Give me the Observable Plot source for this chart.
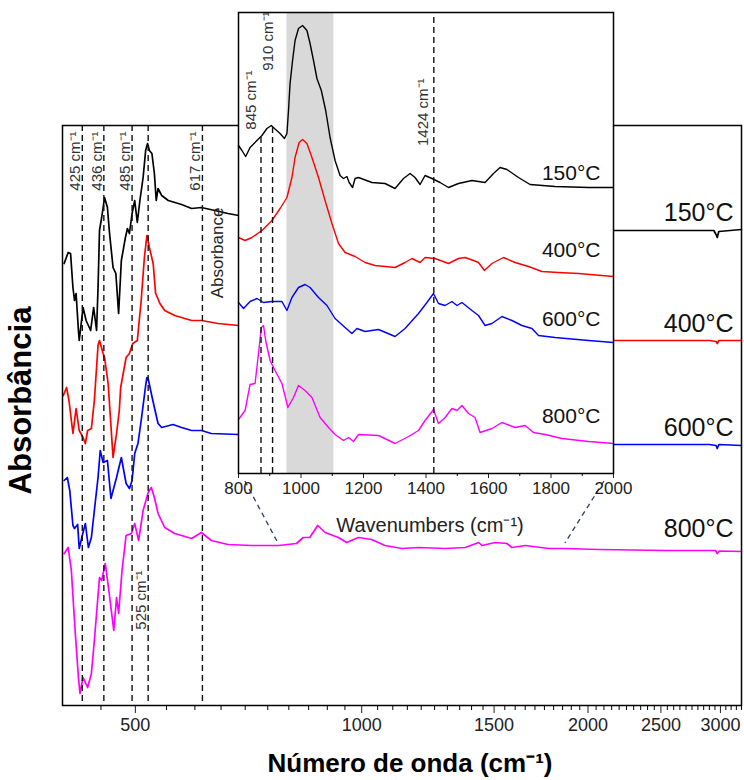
<!DOCTYPE html>
<html><head><meta charset="utf-8">
<script src="https://cdn.jsdelivr.net/npm/d3@7"></script>
<script src="https://cdn.jsdelivr.net/npm/@observablehq/plot@0.6"></script>
<style>
html,body{margin:0;padding:0;background:#fff;}
#wrap{position:relative;width:744px;height:780px;}
#wrap svg{position:absolute;left:0;top:0;}
</style></head><body><div id="wrap"></div>
<script>
// ---------- DATA (wavenumber cm-1, absorbance a.u. incl. offset) ----------
const seriesNames = ["150°C", "400°C", "600°C", "800°C"];
const seriesColors = ["#000000", "#ff0000", "#0000ff", "#ff00ff"];

// Main spectra (log wavenumber axis 400–3200)
const main150 = [[402,4.42],[407,4.53],[410,4.52],[413,4.18],[415,4.05],[417,4.12],[420,3.75],[421,3.65],[426,3.98],[430,3.85],[436,3.75],[440,3.98],[444,3.75],[446,4.18],[448,4.75],[451,4.88],[455,5.08],[459,4.98],[462,4.72],[467,4.38],[471,4.32],[475,3.92],[479,4.45],[485,4.68],[488,4.77],[491,4.72],[495,4.92],[499,5.05],[503,4.83],[507,5.05],[512,5.28],[516,5.55],[519,5.62],[522,5.55],[526,5.52],[530,5.32],[533,5.05],[536,5.17],[542,5.10],[553,5.05],[576,5.01],[594,4.97],[612,4.98],[638,4.95],[664,4.92],[686,4.90],[2173,4.75],[2500,4.75],[2940,4.75],[2960,4.71],[2971,4.68],[2985,4.74],[3200,4.76]];
const main400 = [[401,3.10],[405,3.18],[408,3.05],[413,2.72],[417,2.97],[421,2.75],[426,2.68],[429,2.62],[432,2.75],[437,2.77],[441,3.05],[446,3.60],[448,3.65],[453,3.52],[455,3.48],[460,3.22],[467,2.48],[472,2.72],[476,2.95],[478,3.18],[486,3.48],[491,3.52],[496,3.62],[503,3.65],[509,4.05],[514,4.48],[518,4.70],[522,4.58],[528,4.42],[532,4.12],[535,4.08],[539,4.02],[547,3.95],[564,3.90],[594,3.85],[612,3.85],[644,3.82],[686,3.80],[2173,3.65],[2900,3.65],[2960,3.64],[2971,3.62],[2985,3.65],[3200,3.65]];
const main600 = [[402,2.25],[406,2.28],[409,2.15],[413,1.80],[415,1.77],[419,1.81],[421,1.57],[426,1.73],[429,1.82],[433,1.58],[437,1.68],[441,1.95],[446,2.28],[449,2.55],[453,2.43],[459,2.45],[464,2.07],[472,2.28],[479,2.48],[486,2.22],[491,2.17],[495,2.25],[499,2.52],[504,2.62],[509,2.85],[512,3.00],[516,3.20],[518,3.28],[520,3.27],[525,3.12],[530,2.98],[536,2.82],[542,2.78],[561,2.81],[576,2.78],[594,2.75],[612,2.75],[631,2.72],[686,2.71],[2173,2.61],[2900,2.61],[2960,2.60],[2971,2.57],[2985,2.61],[3200,2.60]];
const main800 = [[402,1.52],[407,1.58],[411,1.35],[416,0.72],[420,0.28],[422,0.12],[426,0.28],[432,0.18],[437,0.32],[441,0.65],[448,1.28],[451,1.25],[456,1.42],[461,1.15],[468,0.75],[472,1.08],[475,0.92],[480,1.35],[486,1.70],[494,1.72],[499,1.82],[505,1.65],[512,1.95],[520,2.13],[525,2.18],[530,2.08],[536,1.92],[547,1.78],[564,1.72],[594,1.67],[612,1.73],[631,1.65],[664,1.61],[714,1.60],[775,1.60],[819,1.62],[836,1.68],[853,1.68],[874,1.80],[894,1.73],[931,1.68],[955,1.63],[990,1.68],[1031,1.66],[1074,1.60],[1131,1.57],[1190,1.58],[1291,1.57],[1373,1.58],[1431,1.63],[1445,1.60],[1505,1.63],[1560,1.62],[1584,1.58],[1650,1.60],[1773,1.57],[1866,1.57],[2067,1.56],[2536,1.55],[2956,1.55],[2971,1.52],[2990,1.545],[3200,1.54]];

// Inset spectra (linear axis 800–2000)
const inset150 = [[800,3.28],[811,3.23],[823,3.17],[837,3.26],[859,3.33],[875,3.38],[891,3.45],[905,3.48],[915,3.45],[933,3.40],[947,3.35],[955,3.40],[960,3.63],[965,3.90],[973,4.13],[981,4.33],[992,4.45],[1005,4.48],[1019,4.43],[1029,4.30],[1040,4.13],[1051,3.95],[1065,3.83],[1079,3.63],[1093,3.36],[1109,3.13],[1125,2.98],[1136,2.95],[1147,2.97],[1154,2.91],[1165,2.86],[1173,2.95],[1184,2.96],[1227,2.91],[1269,2.90],[1301,2.85],[1328,2.95],[1349,3.00],[1365,2.96],[1381,2.89],[1397,2.98],[1419,2.95],[1445,2.91],[1472,2.86],[1504,2.90],[1547,2.93],[1589,2.91],[1616,3.00],[1637,3.06],[1659,3.04],[1696,2.96],[1733,2.89],[1813,2.87],[1920,2.86],[2000,2.86]];
const inset400 = [[800,2.36],[821,2.33],[843,2.36],[875,2.43],[907,2.53],[933,2.65],[955,2.76],[971,2.96],[981,3.16],[994,3.31],[1005,3.34],[1019,3.30],[1035,3.16],[1056,2.96],[1077,2.73],[1099,2.50],[1120,2.30],[1141,2.21],[1173,2.17],[1205,2.11],[1237,2.08],[1301,2.06],[1333,2.11],[1355,2.15],[1381,2.11],[1397,2.16],[1429,2.15],[1472,2.10],[1504,2.15],[1525,2.16],[1552,2.13],[1568,2.11],[1587,2.03],[1611,2.10],[1648,2.16],[1685,2.11],[1728,2.07],[1771,2.02],[1824,2.01],[1888,2.00],[2000,1.97]];
const inset600 = [[800,1.71],[816,1.65],[837,1.72],[859,1.75],[880,1.71],[907,1.72],[939,1.72],[955,1.63],[971,1.76],[992,1.86],[1013,1.89],[1029,1.86],[1056,1.76],[1083,1.68],[1109,1.55],[1141,1.46],[1163,1.40],[1179,1.45],[1205,1.42],[1248,1.44],[1301,1.37],[1333,1.45],[1376,1.60],[1403,1.71],[1424,1.80],[1440,1.70],[1461,1.68],[1483,1.72],[1499,1.68],[1515,1.71],[1547,1.63],[1568,1.58],[1589,1.48],[1611,1.50],[1643,1.57],[1675,1.53],[1707,1.48],[1739,1.45],[1760,1.38],[1813,1.36],[1920,1.33],[2000,1.31]];
const inset800 = [[800,0.54],[821,0.63],[837,0.89],[853,0.90],[864,1.20],[873,1.46],[880,1.48],[887,1.33],[901,1.13],[917,1.03],[939,0.90],[958,0.66],[976,0.76],[992,0.88],[1013,0.83],[1035,0.76],[1061,0.56],[1088,0.46],[1109,0.39],[1136,0.33],[1152,0.36],[1168,0.32],[1184,0.39],[1248,0.38],[1301,0.30],[1344,0.37],[1376,0.43],[1397,0.53],[1417,0.61],[1424,0.64],[1440,0.50],[1461,0.56],[1483,0.65],[1499,0.63],[1515,0.68],[1536,0.60],[1557,0.56],[1573,0.41],[1611,0.45],[1643,0.51],[1685,0.46],[1717,0.48],[1744,0.41],[1781,0.39],[1835,0.35],[1920,0.32],[2000,0.30]];

// Series label heights
const mainLabelY = [4.93, 3.82, 2.78, 1.77];
const insetLabelY = [3.00, 2.23, 1.54, 0.57];

// Marked bands (main): line position, label text, label anchor height
const mainPeakX = [425, 454, 495, 520, 614];
const mainPeakText = ["425 cm⁻¹", "436 cm⁻¹", "485 cm⁻¹", "525 cm⁻¹", "617 cm⁻¹"];
const mainPeakLabelY = [5.74, 5.74, 5.74, 1.35, 5.74];

// Marked bands (inset)
const insetPeakX = [872, 909, 1425];
const insetPeakTop = [3.40, 3.46, 4.61];
const insetPeakText = ["845 cm⁻¹", "910 cm⁻¹", "1424 cm⁻¹"];
const insetPeakLabelX = [842, 896, 1392];
const insetPeakLabelY = [4.03, 4.62, 3.95];

// Shaded region in inset
const bandFrom = 955, bandTo = 1105;

// Axis ticks
const mainMajorTicks = [500, 1000, 1500, 2000, 2500, 3000];
const mainMinorTicks = d3.range(450, 3201, 50).filter(v => !mainMajorTicks.includes(v));
const insetMajorTicks = [800, 1000, 1200, 1400, 1600, 1800, 2000];
const insetMinorTicks = [900, 1100, 1300, 1500, 1700, 1900];

// Zoom connectors
const zoomLinks = [{insetX: 822, mainX: 775}, {insetX: 1971, mainX: 1866}];
const zoomLinkInsetY = -0.08, zoomLinkMainY = 1.62;

// ---------- BUILD ----------
const FONT = '"Liberation Sans", Arial, Helvetica, sans-serif';
const rows = pairs => pairs.map(([x, y]) => ({x, y}));
const mainSeries = [main150, main400, main600, main800];
const insetSeries = [inset150, inset400, inset600, inset800];
const mainPeaks = mainPeakX.map((x, i) => ({x, label: mainPeakText[i], ly: mainPeakLabelY[i]}));
const insetPeaks = insetPeakX.map((x, i) => ({x, top: insetPeakTop[i], bottom: 0, label: insetPeakText[i], lx: insetPeakLabelX[i], ly: insetPeakLabelY[i]}));
const mainLabels = seriesNames.map((s, i) => ({label: s, y: mainLabelY[i]}));
const insetLabels = seriesNames.map((s, i) => ({label: s, y: insetLabelY[i]}));

const main = Plot.plot({
  width: 744, height: 780,
  marginLeft: 62, marginRight: 3, marginTop: 125, marginBottom: 75,
  style: {fontFamily: FONT, background: "transparent", overflow: "visible"},
  x: {type: "log", domain: [400, 3200]},
  y: {domain: [0, 5.8], axis: null},
  marks: [
    ...mainSeries.map((s, i) => Plot.line(rows(s), {x: "x", y: "y", stroke: seriesColors[i], strokeWidth: 1.7})),
    Plot.ruleX(mainPeaks, {x: "x", stroke: "#111", strokeWidth: 1.4, strokeDasharray: "6,4"}),
    Plot.text(mainPeaks, {x: "x", y: "ly", text: "label", rotate: -90, textAnchor: "end", dx: -7, fontSize: 15, fill: "#333"}),
    Plot.text(mainLabels, {y: "y", text: "label", frameAnchor: "right", textAnchor: "end", dx: -8, fontSize: 25, fill: "#111"}),
    Plot.axisX({ticks: mainMajorTicks, tickFormat: d => String(d), tickSize: 8, tickPadding: 5, fontSize: 18, label: null, color: "#222"}),
    Plot.axisX({ticks: mainMinorTicks, tickFormat: () => "", tickSize: 5, label: null}),
    Plot.frame({stroke: "#000", strokeWidth: 1.5}),
    Plot.text(["Absorbância"], {frameAnchor: "left", rotate: -90, textAnchor: "middle", lineAnchor: "middle", dx: -41, dy: -15, fontSize: 31, fontWeight: "bold"}),
    Plot.text(["Número de onda (cm⁻¹)"], {frameAnchor: "bottom", lineAnchor: "middle", dy: 58, dx: 8, fontSize: 26, fontWeight: "bold"})
  ]
});

const inset = Plot.plot({
  width: 744, height: 560,
  marginLeft: 238, marginRight: 131, marginTop: 12, marginBottom: 87,
  style: {fontFamily: FONT, background: "transparent", overflow: "visible"},
  x: {domain: [800, 2000]},
  y: {domain: [0, 4.61], axis: null},
  marks: [
    Plot.frame({fill: "white"}),
    Plot.rect([{x1: bandFrom, x2: bandTo}], {x1: "x1", x2: "x2", fill: "#d9d9d9"}),
    ...insetSeries.map((s, i) => Plot.line(rows(s), {x: "x", y: "y", stroke: seriesColors[i], strokeWidth: 1.4})),
    Plot.ruleX(insetPeaks, {x: "x", y1: "bottom", y2: "top", stroke: "#111", strokeWidth: 1.4, strokeDasharray: "6,4"}),
    Plot.text(insetPeaks, {x: "lx", y: "ly", text: "label", rotate: -90, textAnchor: "end", fontSize: 15, fill: "#333"}),
    Plot.text(insetLabels, {y: "y", text: "label", frameAnchor: "right", textAnchor: "end", dx: -13, fontSize: 21, fill: "#111"}),
    Plot.axisX({ticks: insetMajorTicks, tickFormat: d => String(d), tickSize: 5, tickPadding: 3, fontSize: 17, label: null, color: "#222"}),
    Plot.axisX({ticks: insetMinorTicks, tickFormat: () => "", tickSize: 3, label: null}),
    Plot.frame({stroke: "#000", strokeWidth: 1.5}),
    Plot.text(["Absorbance"], {frameAnchor: "left", rotate: -90, textAnchor: "middle", lineAnchor: "middle", dx: -21, dy: 10, fontSize: 17, fill: "#222"}),
    Plot.text(["Wavenumbers (cm⁻¹)"], {frameAnchor: "bottom", lineAnchor: "middle", dy: 52, dx: 4, fontSize: 20, fill: "#222"})
  ]
});

const wrap = document.getElementById("wrap");
wrap.appendChild(main);

// Connectors between zoom window and main axis, positioned via both plots' scales
const mx = main.scale("x"), my = main.scale("y"), ix = inset.scale("x"), iy = inset.scale("y");
const overlay = d3.create("svg").attr("width", 744).attr("height", 780).style("pointer-events", "none");
overlay.selectAll("line").data(zoomLinks).join("line")
  .attr("x1", d => ix.apply(d.insetX)).attr("y1", iy.apply(zoomLinkInsetY))
  .attr("x2", d => mx.apply(d.mainX)).attr("y2", my.apply(zoomLinkMainY))
  .attr("stroke", "#2b3f6b").attr("stroke-width", 1.3).attr("stroke-dasharray", "5,4");
wrap.appendChild(overlay.node());
wrap.appendChild(inset);
</script></body></html>
